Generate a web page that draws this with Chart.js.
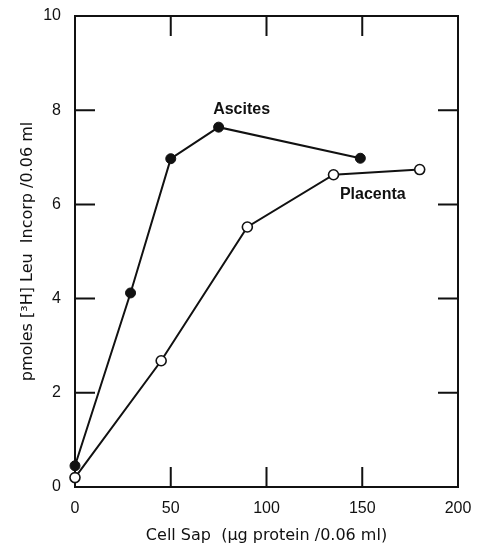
<!DOCTYPE html>
<html>
<head>
<meta charset="utf-8">
<script src="https://cdn.jsdelivr.net/npm/chart.js@4/dist/chart.umd.min.js"></script>
<style>
  html, body { margin: 0; padding: 0; background: #fff; }
  #wrap { width: 479px; height: 545px; }
</style>
</head>
<body>
<div id="wrap"><canvas id="grafica" width="479" height="545"></canvas></div>
<script>
// Datos
const ascitesX = [0, 29, 50, 75, 149];
const ascitesY = [0.45, 4.12, 6.97, 7.64, 6.98];
const placentaX = [0, 45, 90, 135, 180];
const placentaY = [0.2, 2.68, 5.52, 6.63, 6.74];

const xTicks = [0, 50, 100, 150, 200];
const yTicks = [0, 2, 4, 6, 8, 10];
const marcasX = [50, 100, 150];   // marcas interiores arriba/abajo
const marcasY = [2, 4, 6, 8];     // marcas interiores izq/der

const etiquetas = [
  { texto: 'Ascites', x: 87, y: 8.01 },
  { texto: 'Placenta', x: 155.5, y: 6.21 }
];

const tituloX = 'Cell Sap  (\u03bcg protein /0.06 ml)';
const tituloY = 'pmoles [\u00b3H] Leu  Incorp /0.06 ml';

const fuente = 'Liberation Sans';
const fuenteTitulo = 'DejaVu Sans';
const negro = '#111';

function puntos(xs, ys) {
  return xs.map((x, i) => ({ x: x, y: ys[i] }));
}

// Marcas hacia dentro y etiquetas de las curvas
const marcasPlugin = {
  id: 'marcas',
  afterDatasetsDraw(chart) {
    const ctx = chart.ctx;
    const { left, right, top, bottom } = chart.chartArea;
    const sx = chart.scales.x, sy = chart.scales.y;
    const largo = 20;
    ctx.save();
    ctx.strokeStyle = negro;
    ctx.lineWidth = 2;
    ctx.beginPath();
    marcasX.forEach(v => {
      const px = sx.getPixelForValue(v);
      ctx.moveTo(px, bottom); ctx.lineTo(px, bottom - largo);
      ctx.moveTo(px, top); ctx.lineTo(px, top + largo);
    });
    marcasY.forEach(v => {
      const py = sy.getPixelForValue(v);
      ctx.moveTo(left, py); ctx.lineTo(left + largo, py);
      ctx.moveTo(right, py); ctx.lineTo(right - largo, py);
    });
    ctx.stroke();

    ctx.fillStyle = negro;
    ctx.font = 'bold 16px "' + fuente + '"';
    ctx.textAlign = 'center';
    ctx.textBaseline = 'middle';
    etiquetas.forEach(e => {
      ctx.fillText(e.texto, sx.getPixelForValue(e.x), sy.getPixelForValue(e.y));
    });
    ctx.restore();
  }
};

const chart = new Chart(document.getElementById('grafica'), {
  type: 'scatter',
  data: {
    datasets: [
      {
        label: 'Ascites',
        data: puntos(ascitesX, ascitesY),
        showLine: true,
        borderColor: negro,
        borderWidth: 2,
        backgroundColor: negro,
        pointRadius: 5,
        pointBorderWidth: 1,
        pointBorderColor: negro,
        pointBackgroundColor: negro
      },
      {
        label: 'Placenta',
        data: puntos(placentaX, placentaY),
        showLine: true,
        borderColor: negro,
        borderWidth: 2,
        pointRadius: 5,
        pointBorderWidth: 1.6,
        pointBorderColor: negro,
        pointBackgroundColor: '#fff'
      }
    ]
  },
  options: {
    responsive: false,
    animation: false,
    clip: false,
    layout: { padding: { top: 16, right: 21, left: 0, bottom: 0 } },
    plugins: {
      legend: { display: false },
      tooltip: { enabled: false }
    },
    scales: {
      x: {
        type: 'linear',
        position: 'bottom',
        min: 0, max: 200,
        afterBuildTicks: s => { s.ticks = xTicks.map(v => ({ value: v })); },
        afterFit: s => { s.height = 58; s.paddingLeft = 0; s.paddingRight = 0; },
        grid: { display: false, drawTicks: false },
        border: { display: true, color: negro, width: 2 },
        ticks: { color: negro, padding: 12, font: { family: fuente, size: 16 }, maxRotation: 0 },
        title: {
          display: true, text: tituloX, color: negro,
          font: { family: fuenteTitulo, size: 16 }, padding: { top: 5, bottom: 0 }
        }
      },
      y: {
        type: 'linear',
        position: 'left',
        min: 0, max: 10,
        afterBuildTicks: s => { s.ticks = yTicks.map(v => ({ value: v })); },
        afterFit: s => { s.width = 75; s.paddingTop = 0; s.paddingBottom = 0; },
        grid: { display: false, drawTicks: false },
        border: { display: true, color: negro, width: 2 },
        ticks: { color: negro, padding: 14, font: { family: fuente, size: 16 } },
        title: {
          display: true, text: tituloY, color: negro,
          font: { family: fuenteTitulo, size: 16 }, padding: { top: 18, bottom: 0 }
        }
      },
      x2: {
        type: 'linear',
        position: 'top',
        min: 0, max: 200,
        afterFit: s => { s.height = 0; },
        grid: { display: false, drawTicks: false },
        border: { display: true, color: negro, width: 2 },
        ticks: { display: false }
      },
      y2: {
        type: 'linear',
        position: 'right',
        min: 0, max: 10,
        afterFit: s => { s.width = 0; },
        grid: { display: false, drawTicks: false },
        border: { display: true, color: negro, width: 2 },
        ticks: { display: false }
      }
    }
  },
  plugins: [marcasPlugin]
});
</script>
</body>
</html>
